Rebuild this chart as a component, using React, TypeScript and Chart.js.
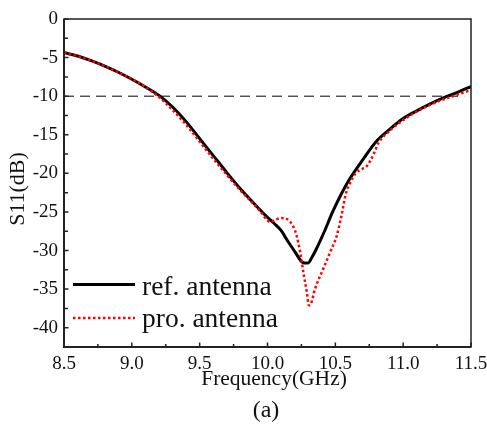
import React, { useEffect, useRef } from "react";
import { Chart, registerables } from "chart.js";

Chart.register(...registerables);

const FONT = "'Liberation Serif', 'Times New Roman', serif";

// Reference antenna S11 (black solid)
const freqRef = [8.5, 8.6, 8.7, 8.8, 8.9, 9.0, 9.1, 9.2, 9.3, 9.4, 9.5, 9.6, 9.7, 9.8, 9.9, 10.0, 10.05, 10.1, 10.15, 10.2, 10.25, 10.27, 10.3, 10.33, 10.36, 10.42, 10.48, 10.54, 10.6, 10.7, 10.8, 10.9, 11.0, 11.1, 11.2, 11.3, 11.4, 11.5];
const s11Ref = [-4.35, -4.8, -5.4, -6.1, -6.9, -7.8, -8.8, -9.9, -11.4, -13.3, -15.5, -17.7, -19.9, -22.0, -23.9, -25.7, -26.5, -27.4, -28.8, -30.1, -31.4, -31.6, -31.6, -30.8, -29.8, -27.5, -25.0, -22.8, -20.9, -18.3, -15.9, -14.3, -12.9, -11.9, -11.0, -10.2, -9.5, -8.75];

// Proposed antenna S11 (red dotted)
const freqPro = [8.5, 8.6, 8.7, 8.8, 8.9, 9.0, 9.1, 9.2, 9.3, 9.4, 9.5, 9.6, 9.7, 9.8, 9.9, 9.95, 10.02, 10.06, 10.1, 10.14, 10.19, 10.215, 10.24, 10.265, 10.29, 10.305, 10.32, 10.35, 10.41, 10.46, 10.51, 10.545, 10.58, 10.61, 10.65, 10.7, 10.73, 10.76, 10.79, 10.82, 10.9, 11.0, 11.1, 11.2, 11.3, 11.4, 11.5];
const s11Pro = [-4.35, -4.8, -5.4, -6.1, -6.9, -7.8, -8.8, -10.1, -11.8, -13.7, -15.9, -18.1, -20.2, -22.2, -24.0, -25.0, -26.3, -26.0, -25.8, -25.9, -26.9, -28.1, -30.1, -32.9, -35.4, -37.1, -36.9, -35.0, -32.4, -30.3, -28.1, -25.5, -22.5, -21.2, -20.0, -19.4, -19.1, -18.3, -17.2, -16.0, -14.5, -13.1, -12.0, -11.1, -10.4, -9.8, -9.2];

// -10 dB reference line
const refLineX = [8.5, 11.45];
const refLineY = [-10, -10];

const xTicks = [8.5, 9.0, 9.5, 10.0, 10.5, 11.0, 11.5];
const yTicks = [0, -5, -10, -15, -20, -25, -30, -35, -40];
const xMinorTicks = [8.75, 9.25, 9.75, 10.25, 10.75, 11.25];
const yMinorTicks = [-2.5, -7.5, -12.5, -17.5, -22.5, -27.5, -32.5, -37.5];

const seriesNames = ["ref. antenna", "pro. antenna"];
const xTitle = "Frequency(GHz)";
const yTitle = "S11(dB)";
const caption = "(a)";

const toPts = (xs: number[], ys: number[]) => xs.map((x, i) => ({ x, y: ys[i] }));

const decorPlugin = {
  id: "decor",
  afterDatasetsDraw(chart: any) {
    const ctx = chart.ctx as CanvasRenderingContext2D;
    const { left, right, top, bottom } = chart.chartArea;
    const xs = chart.scales.x;
    const ys = chart.scales.y;
    ctx.save();
    // frame
    ctx.strokeStyle = "#222";
    ctx.lineWidth = 1.5;
    ctx.strokeRect(left, top, right - left, bottom - top);
    ctx.lineWidth = 2;
    ctx.beginPath();
    ctx.moveTo(left, top);
    ctx.lineTo(left, bottom);
    ctx.lineTo(right, bottom);
    ctx.stroke();
    // inward ticks
    ctx.lineWidth = 1.5;
    ctx.beginPath();
    xTicks.forEach((v) => {
      const p = xs.getPixelForValue(v);
      ctx.moveTo(p, bottom);
      ctx.lineTo(p, bottom - 4.5);
    });
    xMinorTicks.forEach((v) => {
      const p = xs.getPixelForValue(v);
      ctx.moveTo(p, bottom);
      ctx.lineTo(p, bottom - 3);
    });
    yTicks.forEach((v) => {
      const p = ys.getPixelForValue(v);
      ctx.moveTo(left, p);
      ctx.lineTo(left + 4.5, p);
    });
    yMinorTicks.forEach((v) => {
      const p = ys.getPixelForValue(v);
      ctx.moveTo(left, p);
      ctx.lineTo(left + 4, p);
    });
    ctx.stroke();

    // legend
    const ds = chart.data.datasets;
    const lineY = [284.5, 318];
    const textY = [295, 327];
    [0, 1].forEach((i) => {
      const d = ds[i === 0 ? 1 : 0];
      ctx.beginPath();
      ctx.strokeStyle = d.borderColor;
      ctx.lineWidth = d.borderWidth;
      ctx.setLineDash(d.borderDash || []);
      ctx.moveTo(73, lineY[i]);
      ctx.lineTo(135, lineY[i]);
      ctx.stroke();
      ctx.setLineDash([]);
      ctx.fillStyle = "#111";
      ctx.font = `27.5px ${FONT}`;
      ctx.textAlign = "left";
      ctx.textBaseline = "alphabetic";
      ctx.fillText(seriesNames[i], 142, textY[i]);
    });

    // titles
    ctx.fillStyle = "#111";
    ctx.textAlign = "center";
    ctx.textBaseline = "middle";
    ctx.font = `21.5px ${FONT}`;
    ctx.fillText(xTitle, 274, 379);
    ctx.font = `24px ${FONT}`;
    ctx.fillText(caption, 266, 411);
    ctx.save();
    ctx.translate(18, 189);
    ctx.rotate(-Math.PI / 2);
    ctx.font = `22px ${FONT}`;
    ctx.fillText(yTitle, 0, 0);
    ctx.restore();
    ctx.restore();
  },
};

export default function App() {
  const ref = useRef<HTMLCanvasElement | null>(null);
  useEffect(() => {
    if (!ref.current) return;
    const chart = new Chart(ref.current, {
      type: "line",
      data: {
        datasets: [
          {
            label: seriesNames[1],
            data: toPts(freqPro, s11Pro),
            borderColor: "#ff0000",
            borderWidth: 2.5,
            borderDash: [2.5, 2.5],
            pointRadius: 0,
            fill: false,
            cubicInterpolationMode: "monotone",
          },
          {
            label: seriesNames[0],
            data: toPts(freqRef, s11Ref),
            borderColor: "#000000",
            borderWidth: 3,
            pointRadius: 0,
            fill: false,
            cubicInterpolationMode: "monotone",
          },
          {
            label: "-10 dB",
            data: toPts(refLineX, refLineY),
            borderColor: "#000000",
            borderWidth: 1,
            borderDash: [10, 6],
            pointRadius: 0,
            fill: false,
          },
        ],
      },
      options: {
        responsive: false,
        animation: false,
        devicePixelRatio: 1,
        layout: { padding: { top: 19, right: 16, left: 0, bottom: 0 } },
        plugins: { legend: { display: false }, tooltip: { enabled: false } },
        scales: {
          x: {
            type: "linear",
            min: 8.5,
            max: 11.5,
            grid: { display: false, drawTicks: false },
            border: { display: false },
            afterBuildTicks: (s: any) => {
              s.ticks = xTicks.map((v) => ({ value: v }));
            },
            afterFit: (s: any) => {
              s.height = 78;
              s.paddingLeft = 0;
              s.paddingRight = 0;
            },
            ticks: {
              color: "#111",
              font: { family: FONT, size: 19 },
              padding: 6,
              maxRotation: 0,
              autoSkip: false,
              callback: (v: any) => Number(v).toFixed(1),
            },
          },
          y: {
            type: "linear",
            min: -42.5,
            max: 0,
            grid: { display: false, drawTicks: false },
            border: { display: false },
            afterBuildTicks: (s: any) => {
              s.ticks = yTicks.map((v) => ({ value: v }));
            },
            afterFit: (s: any) => {
              s.width = 64;
              s.paddingTop = 0;
              s.paddingBottom = 0;
            },
            ticks: {
              color: "#111",
              font: { family: FONT, size: 19 },
              padding: 6,
              autoSkip: false,
              callback: (v: any) => String(v),
            },
          },
        },
      },
      plugins: [decorPlugin],
    });
    return () => chart.destroy();
  }, []);
  return (
    <div style={{ position: "fixed", left: 0, top: 0, width: 487, height: 425, background: "#fff" }}>
      <canvas ref={ref} width={487} height={425} style={{ width: 487, height: 425 }} />
    </div>
  );
}
